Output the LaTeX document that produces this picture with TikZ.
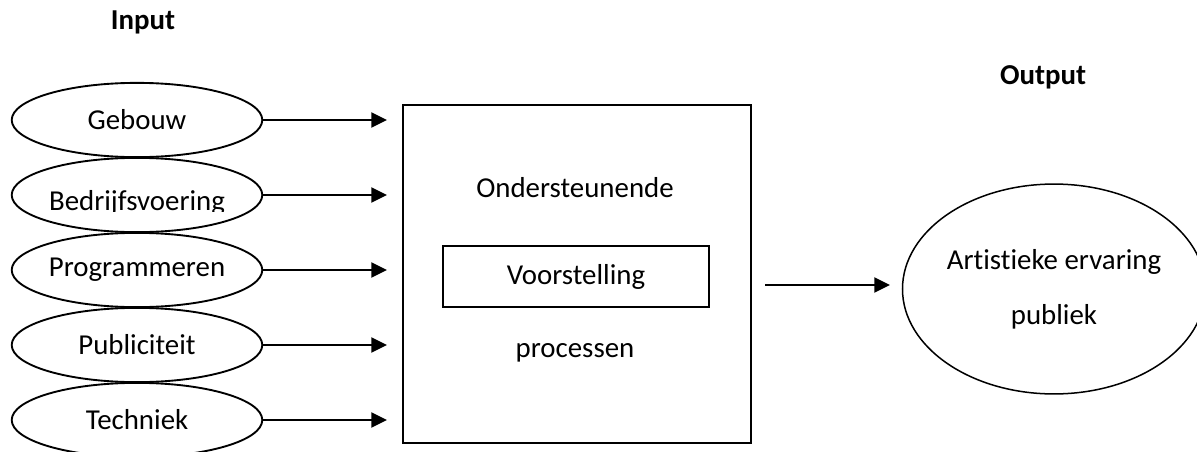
\documentclass[tikz,border=0pt]{standalone}
\usepackage{fontspec}
\setmainfont{Carlito}[Ligatures=NoCommon]
\usetikzlibrary{shapes.geometric}
\usetikzlibrary{arrows.meta}

\tikzset{
  inp/.style={draw, ellipse, line width=0.75pt, minimum width=3.51cm, minimum height=1.04cm, inner sep=0pt},
  arr/.style={line width=0.9pt, -{Triangle[length=0.22cm,width=0.21cm]}},
}

\begin{document}
\begin{tikzpicture}[x=0.014cm, y=-0.014cm, font=\fontsize{11.5}{14}\selectfont]
\useasboundingbox (0,0) rectangle (1197,452);

\node (input) at (143,22) {\textbf{Input}};
\node (output) at (1043,77) {\textbf{Output}};

\node[inp] (geb) at (137,120) {Gebouw};
\node[inp] (bed) at (137,195) {};
\begin{scope}
\clip (20,150) rectangle (260,211);
\node[anchor=base] (bedtxt) at (137,210) {Bedrijfsvoering};
\end{scope}
\node[inp] (prog) at (137,270) {Programmeren};
\node[inp] (pub) at (137,345) {Publiciteit};
\node[inp] (tech) at (137,420) {Techniek};

\node[draw, line width=0.6pt, minimum width=4.872cm, minimum height=4.732cm] (proc) at (577,274) {};
\node (ond) at (575,188) {Ondersteunende};
\node[draw, line width=0.6pt, minimum width=3.724cm, minimum height=0.854cm] (voor) at (576,276.5) {Voorstelling};
\node (pro) at (575,353) {processen};

\node[draw, ellipse, line width=0.6pt, inner sep=0pt, minimum width=4.08cm, minimum height=2.94cm, align=center,
  font=\fontsize{11.5}{21.8}\selectfont] (art) at (1054,289) {Artistieke ervaring\\publiek};

\coordinate (tip) at (387,0);
\draw[arr] (geb.east) -- (geb.east -| tip);
\draw[arr] (bed.east) -- (bed.east -| tip);
\draw[arr] (prog.east) -- (prog.east -| tip);
\draw[arr] (pub.east) -- (pub.east -| tip);
\draw[arr] (tech.east) -- (tech.east -| tip);

\coordinate (oa) at (765,285);
\coordinate (ob) at (890,285);
\draw[arr] (oa) -- (ob);

\end{tikzpicture}
\end{document}
